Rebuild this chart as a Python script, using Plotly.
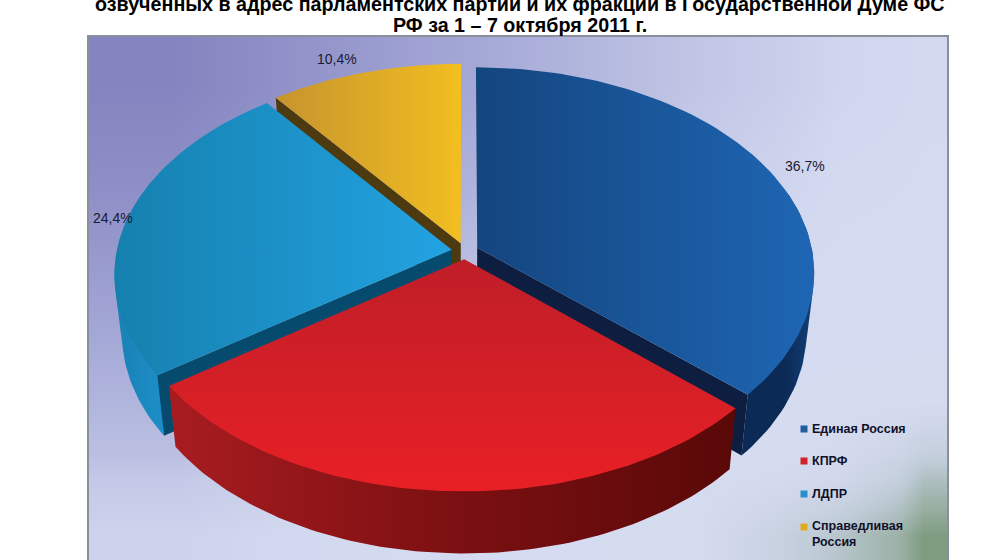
import plotly.graph_objects as go
import numpy as np

# share of mentions per party, clockwise from the top
parties = ["Единая Россия", "КПРФ", "ЛДПР", "Справедливая<br>Россия"]
values = [36.7, 28.5, 24.4, 10.4]
title_lines = [
    "озвученных в адрес парламентских партий и их фракций в Государственной Думе ФС",
    "РФ за 1 – 7 октября 2011 г.",
]

# panel background brightness, coarse grid (x, y are cell edges)
bg_x = [88, 260, 432, 604, 776, 900, 948]
bg_y = [36, 140, 244, 348, 452, 510, 560]
bg_z = [
    [0.00, 0.18, 0.36, 0.55, 0.68, 0.72],
    [0.10, 0.28, 0.46, 0.62, 0.72, 0.74],
    [0.25, 0.40, 0.58, 0.72, 0.75, 0.76],
    [0.42, 0.58, 0.70, 0.76, 0.78, 0.78],
    [0.58, 0.68, 0.74, 0.78, 0.80, 0.90],
    [0.66, 0.72, 0.76, 0.78, 0.88, 1.00],
]
bg_scale = [[0, "#8484c0"], [0.35, "#a8acd8"], [0.70, "#d2d8ef"], [0.78, "#d6dcf0"], [0.86, "#c0ccd8"], [1, "#7f9c80"]]

top_fill = [
    ["#14457e", "#1e66b4"],
    ["#e82025", "#bf1e28"],
    ["#1580ae", "#23a3e2"],
    ["#c6942e", "#f2be20"],
]
top_dir = ["horizontal", "vertical", "horizontal", "horizontal"]
side_fill = [
    [[0, "#0c2a56"], [0.6, "#0c2a56"], [1, "#12407a"]],
    [[0, "#a81c20"], [0.5, "#7c1012"], [1, "#5a0808"]],
    [[0, "#1a80b4"], [1, "#1c8fc8"]],
    [[0, "#4d3a10"], [1, "#4d3a10"]],
]
inner_fill = ["#0e1e40", "#5a0808", "#064a6e", "#4d3a10"]
legend_colors = ["#1f5f9e", "#d4202a", "#2a90cc", "#e0aa20"]
legend_y = [429, 461, 494, 527]
label_x = [805, 113, 337]
label_y = [166, 218, 59]

# tilted pie projection, in picture pixels
cx, cy = 465, 251
rx, ry = 335, 202.6
persp = 0.119
explode = 0.04
depth = 59
low_scale = 0.978


def project(u, v, low=False):
    s = 1 / (1 - persp * v)
    f = low_scale if low else 1
    return cx + rx * u * s * f, cy + ry * v * s * f + (depth * s if low else 0)


def hull(points):
    # convex outline, so the rim stays tangent to both arcs
    points = sorted(set(points))
    out = []
    for seq in (points, points[::-1]):
        part = []
        for p in seq:
            while len(part) > 1 and ((part[-1][0] - part[-2][0]) * (p[1] - part[-2][1])
                                     - (part[-1][1] - part[-2][1]) * (p[0] - part[-2][0])) <= 0:
                part.pop()
            part.append(p)
        out += part[:-1]
    return out + out[:1]


fig = go.Figure()
fig.add_trace(go.Heatmap(x=bg_x, y=bg_y, z=bg_z, colorscale=bg_scale, zmin=0, zmax=1, zsmooth="best",
                         showscale=False, hoverinfo="skip"))


def add_poly(x, y, color=None, grad=None):
    kw = dict(fillgradient=grad) if grad else dict(fillcolor=color)
    fig.add_trace(go.Scatter(x=x, y=y, mode="lines", fill="toself", line=dict(width=0),
                             hoverinfo="skip", showlegend=False, **kw))


edges = np.cumsum([0] + values) / sum(values) * 2 * np.pi
for i in [3, 0, 2, 1]:
    a = np.linspace(edges[i], edges[i + 1], 90)
    mid = (edges[i] + edges[i + 1]) / 2
    du, dv = explode * np.sin(mid), -explode * np.cos(mid)
    u, v = np.sin(a) + du, -np.cos(a) + dv
    tx, ty = project(u, v)
    bx, by = project(u, v, True)
    ax, ay = project(du, dv)
    lx, ly = project(du, dv, True)

    # the rim only shows on the front part of the arc
    front = v > -0.3
    if front.sum() > 2:
        rim = hull(list(zip(tx[front], ty[front])) + list(zip(bx[front], by[front])))
        add_poly([p[0] for p in rim], [p[1] for p in rim], grad=dict(type="horizontal", colorscale=side_fill[i]))

    # only radial walls that face the viewer, then the top face over them
    if np.sin(a[0]) < -1e-9:
        add_poly([ax, tx[0], bx[0], lx, ax], [ay, ty[0], by[0], ly, ay], inner_fill[i])
    if np.sin(a[-1]) > 1e-9:
        add_poly([ax, tx[-1], bx[-1], lx, ax], [ay, ty[-1], by[-1], ly, ay], inner_fill[i])
    add_poly([ax] + list(tx) + [ax], [ay] + list(ty) + [ay],
             grad=dict(type=top_dir[i], colorscale=[[0, top_fill[i][0]], [1, top_fill[i][1]]]))

# legend
fig.add_trace(go.Scatter(x=[804] * 4, y=legend_y, mode="markers", hoverinfo="skip", showlegend=False,
                         marker=dict(symbol="square", size=7, color=legend_colors, line=dict(width=0))))

annotations = []
for i, name in enumerate(parties):
    annotations.append(dict(x=810, y=legend_y[i] + (7 if "<br>" in name else 0), text="<b>" + name + "</b>",
                            showarrow=False, xanchor="left", align="left",
                            font=dict(family="Liberation Sans", size=12.5, color="#10102a")))
for i, j in enumerate([0, 2, 3]):
    annotations.append(dict(x=label_x[i], y=label_y[i], text=f"{values[j]:.1f}%".replace(".", ","),
                            showarrow=False, font=dict(family="Liberation Sans", size=14, color="#1a1a30")))
for line, y in zip(title_lines, [4, 25]):
    annotations.append(dict(x=520, y=y, text="<b>" + line + "</b>", showarrow=False,
                            font=dict(family="Liberation Sans", size=19.7, color="#000000")))

fig.update_layout(
    width=1000, height=560, margin=dict(l=0, r=0, t=0, b=0),
    paper_bgcolor="#ffffff", plot_bgcolor="#ffffff", showlegend=False,
    xaxis=dict(range=[0, 1000], visible=False, fixedrange=True),
    yaxis=dict(range=[560, 0], visible=False, fixedrange=True),
    annotations=annotations,
    shapes=[dict(type="rect", xref="x", yref="y", x0=88, x1=948, y0=36, y1=575,
                 line=dict(color="#8b8f9b", width=2), layer="above")],
)

fig.write_html("out.html", config=dict(displayModeBar=False), post_script="document.body.style.margin = '0';")
